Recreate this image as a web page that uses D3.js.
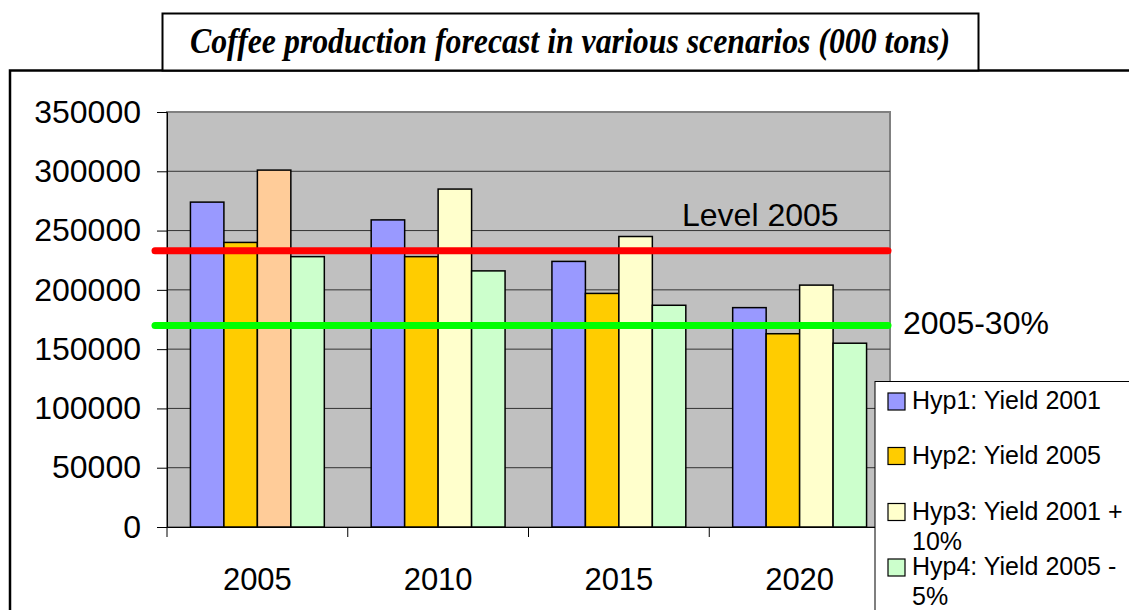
<!DOCTYPE html>
<html lang="en">
<head>
    <meta charset="UTF-8">
    <script src="https://d3js.org/d3.v7.min.js"></script>
    <title>Coffee production forecast</title>
    <style>
        body { margin: 0; background: #fff; }
        text { font-family: "Liberation Sans", Arial, sans-serif; }
    </style>
</head>
<body>
    <script>
        // chart values
        let years = ["2005", "2010", "2015", "2020"];
        let seriesNames = ["Hyp1: Yield 2001", "Hyp2: Yield 2005", "Hyp3: Yield 2001 +\n10%", "Hyp4: Yield 2005 -\n5%"];
        let hyp1 = [274000, 259000, 224000, 185000];
        let hyp2 = [240000, 228000, 197000, 163000];
        let hyp3 = [301000, 285000, 245000, 204000];
        let hyp4 = [228000, 216000, 187000, 155000];
        let yTicks = [0, 50000, 100000, 150000, 200000, 250000, 300000, 350000];
        let refLines = [
            { label: "Level 2005", value: 233000, color: "#ff0000" },
            { label: "2005-30%", value: 170000, color: "#00ff00" }
        ];
        let colors = ["#9999ff", "#ffcc00", "#ffffcc", "#ccffcc"];
        let oddColor = "#ffcc99"; // Hyp3 bar in 2005 has its own fill

        let allSeries = [hyp1, hyp2, hyp3, hyp4];

        let svg = d3.select("body").append("svg")
            .attr("width", 1129)
            .attr("height", 610);

        // outer chart frame
        svg.append("rect")
            .attr("x", 10).attr("y", 70.5)
            .attr("width", 1140).attr("height", 600)
            .attr("fill", "#fff")
            .attr("stroke", "#000")
            .attr("stroke-width", 2.5);

        // title box
        svg.append("rect")
            .attr("x", 162.5).attr("y", 13.5)
            .attr("width", 816).attr("height", 57)
            .attr("fill", "#fff")
            .attr("stroke", "#000")
            .attr("stroke-width", 2);

        svg.append("text")
            .attr("x", 570).attr("y", 53)
            .attr("text-anchor", "middle")
            .style("font-family", "'Liberation Serif', 'Times New Roman', serif")
            .style("font-weight", "bold")
            .style("font-style", "italic")
            .style("font-size", "36px")
            .attr("textLength", 760)
            .attr("lengthAdjust", "spacingAndGlyphs")
            .text("Coffee production forecast in various scenarios (000 tons)");

        let plotLeft = 167, plotRight = 890, plotTop = 112, plotBottom = 527;

        let x = d3.scaleBand()
            .domain(years)
            .range([plotLeft, plotRight]);

        let gap = x.bandwidth() / 5.4 * 0.7;
        let xSub = d3.scaleBand()
            .domain(d3.range(4))
            .range([gap, x.bandwidth() - gap]);

        let y = d3.scaleLinear()
            .domain([0, 350000])
            .range([plotBottom, plotTop]);

        // plot area
        svg.append("rect")
            .attr("x", plotLeft).attr("y", plotTop)
            .attr("width", plotRight - plotLeft).attr("height", plotBottom - plotTop)
            .attr("fill", "#c0c0c0")
            .attr("stroke", "#808080")
            .attr("stroke-width", 2);

        // gridlines
        svg.append("g")
            .selectAll("line")
            .data(yTicks.filter(t => t > 0 && t < 350000))
            .enter().append("line")
            .attr("x1", plotLeft).attr("x2", plotRight)
            .attr("y1", d => y(d)).attr("y2", d => y(d))
            .attr("stroke", "#333")
            .attr("stroke-width", 1);

        // bars
        years.forEach((yr, i) => {
            allSeries.forEach((s, j) => {
                svg.append("rect")
                    .attr("x", x(yr) + xSub(j))
                    .attr("y", y(s[i]))
                    .attr("width", xSub.bandwidth())
                    .attr("height", y(0) - y(s[i]))
                    .attr("fill", (i == 0 && j == 2) ? oddColor : colors[j])
                    .attr("stroke", "#000")
                    .attr("stroke-width", 1.5);
            });
        });

        // y axis
        let yAxis = svg.append("g")
            .attr("transform", "translate(" + plotLeft + ",0)")
            .call(d3.axisLeft(y).tickValues(yTicks).tickSize(10).tickPadding(16).tickFormat(d => d));
        yAxis.selectAll("text")
            .style("font-size", "32px")
            .attr("fill", "#000");
        yAxis.select(".domain").attr("stroke", "#000");
        yAxis.selectAll(".tick line").attr("stroke", "#000");

        // x axis
        let xAxis = svg.append("g")
            .attr("transform", "translate(0," + plotBottom + ")")
            .call(d3.axisBottom(x).tickSize(0).tickPadding(41).tickSizeOuter(0));
        xAxis.selectAll("text")
            .style("font-size", "31px")
            .attr("fill", "#000");
        xAxis.select(".domain").attr("stroke", "#000");
        xAxis.selectAll(".sep")
            .data(years)
            .enter().append("line")
            .attr("x1", d => x(d)).attr("x2", d => x(d))
            .attr("y1", 0).attr("y2", 10)
            .attr("stroke", "#000");

        // reference lines
        refLines.forEach(r => {
            svg.append("line")
                .attr("x1", 155).attr("x2", 888)
                .attr("y1", y(r.value)).attr("y2", y(r.value))
                .attr("stroke", r.color)
                .attr("stroke-width", 7)
                .attr("stroke-linecap", "round");
        });
        svg.append("text")
            .attr("x", 682).attr("y", 226)
            .style("font-size", "32px")
            .text(refLines[0].label);
        svg.append("text")
            .attr("x", 903).attr("y", 334)
            .style("font-size", "32px")
            .text(refLines[1].label);

        // legend
        svg.append("rect")
            .attr("x", 875).attr("y", 381.5)
            .attr("width", 300).attr("height", 300)
            .attr("fill", "#fff")
            .attr("stroke", "#000")
            .attr("stroke-width", 1);

        let rowTops = [393, 447.5, 503.5, 559];
        seriesNames.forEach((name, j) => {
            svg.append("rect")
                .attr("x", 888).attr("y", rowTops[j])
                .attr("width", 17).attr("height", 17)
                .attr("fill", colors[j])
                .attr("stroke", "#000")
                .attr("stroke-width", 1.2);
            let lines = name.split("\n");
            let t = svg.append("text")
                .attr("x", 912).attr("y", rowTops[j] + 16)
                .style("font-size", "25px");
            lines.forEach((l, k) => {
                t.append("tspan")
                    .attr("x", 912)
                    .attr("dy", k == 0 ? 0 : 30)
                    .text(l);
            });
        });
    </script>
</body>
</html>
